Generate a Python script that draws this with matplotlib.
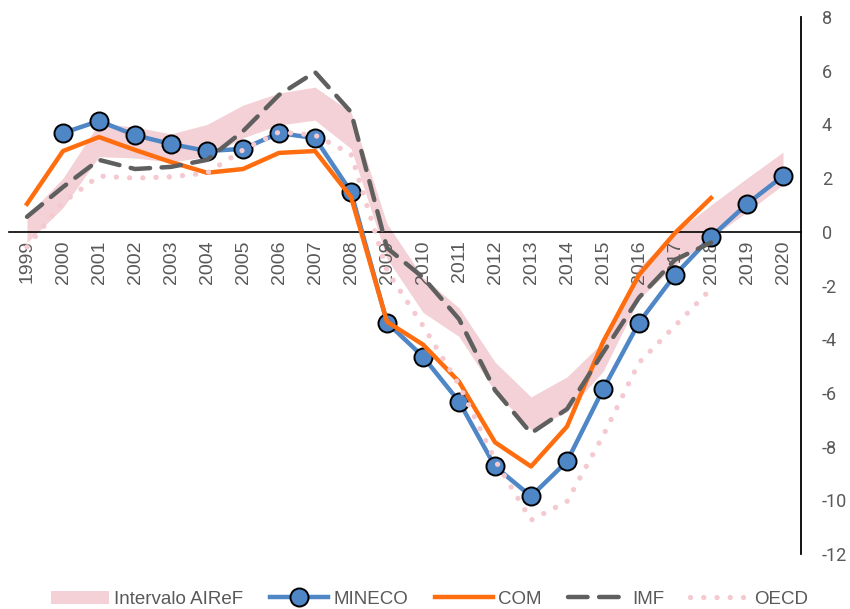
import matplotlib
matplotlib.use("Agg")
import matplotlib.pyplot as plt
import numpy as np

years = list(range(1999, 2021))

# Intervalo AIReF (1999-2020)
airef_low = [-0.4, 0.9, 2.8, 2.75, 2.6, 2.8, 3.5, 3.98, 4.16, 3.1, -1.0, -3.0, -3.9,
             -5.95, -7.36, -6.7, -5.2, -2.5, -1.23, -0.22, 0.74, 1.75]
airef_high = [0.6, 2.0, 4.05, 3.9, 3.65, 4.0, 4.72, 5.17, 5.39, 4.46, 0.3, -1.7, -2.83,
              -4.85, -6.15, -5.4, -4.1, -1.32, -0.04, 1.0, 2.0, 2.97]

# MINECO (2000-2020)
mineco_years = list(range(2000, 2021))
mineco = [3.68, 4.13, 3.6, 3.27, 3.01, 3.09, 3.68, 3.49, 1.49, -3.38, -4.65, -6.32,
          -8.74, -9.85, -8.55, -5.87, -3.38, -1.6, -0.19, 1.04, 2.08]

# COM, IMF, OECD (1999-2018)
fc_years = list(range(1999, 2019))
com = [1.04, 3.01, 3.53, 3.05, 2.6, 2.2, 2.34, 2.94, 3.01, 1.3, -3.35, -4.2, -5.58,
       -7.84, -8.74, -7.25, -4.1, -1.6, -0.04, 1.26]
imf = [0.56, 1.67, 2.68, 2.34, 2.42, 2.68, 3.75, 5.1, 5.95, 4.46, -0.6, -1.7, -3.25,
       -5.9, -7.5, -6.6, -4.5, -2.45, -1.04, -0.4]
oecd = [-0.56, 1.1, 2.08, 2.0, 2.05, 2.19, 3.05, 3.72, 3.6, 2.9, -1.45, -3.5, -5.7,
        -8.5, -10.74, -10.04, -7.6, -4.87, -3.5, -2.12]

yticks = list(range(-12, 10, 2))

narrow = ["Liberation Sans", "DejaVu Sans"]
grey = "#595959"

fig = plt.figure(figsize=(8.5, 6.09), dpi=100)
ax = fig.add_axes([0.0106, 0.0903, 0.9318, 0.8817])

x_all = np.arange(len(years))
x_min = np.array([years.index(y) for y in mineco_years])
x_fc = np.array([years.index(y) for y in fc_years])

ax.fill_between(x_all, airef_low, airef_high, color="#F3D1D6", lw=0, zorder=1.5,
                label="Intervalo AIReF")
ax.plot(x_min, mineco, color="#4E86C6", lw=3.2, marker="o", markersize=13,
        markerfacecolor="#4E86C6", markeredgecolor="black", markeredgewidth=1.4,
        label="MINECO", zorder=2)
ax.plot(x_fc, com, color="#FF6D0E", lw=3.2, label="COM", zorder=2)
ax.plot(x_fc, imf, color="#5F5F5F", lw=3.2, dashes=(4.4, 2.6), dash_capstyle="round",
        label="IMF", zorder=2)
ax.plot(x_fc, oecd, color="#F4C9D0", lw=3.8, dashes=(0.01, 2.5), dash_capstyle="round",
        label="OECD", zorder=2)

ax.set_xlim(-0.5, len(years) - 0.5)
ax.set_ylim(-12, 8)

# category axis crosses at zero, values on the right
ax.spines["bottom"].set_position(("data", 0))
ax.spines["bottom"].set_zorder(1.8)
ax.spines["bottom"].set_linewidth(1.2)
ax.spines["top"].set_visible(False)
ax.spines["left"].set_visible(False)
ax.spines["right"].set_linewidth(1.3)

ax.set_xticks(x_all)
ax.set_xticklabels([str(y) for y in years], rotation=90, family=narrow,
                   fontsize=14, color=grey)
ax.tick_params(axis="x", length=0, pad=6)

ax.yaxis.tick_right()
ax.set_yticks(yticks)
ax.set_yticklabels([str(v) for v in yticks], family=["Roboto", "DejaVu Sans"],
                   fontsize=13, color=grey)
ax.tick_params(axis="y", length=0, pad=15)

leg = fig.legend(loc="center", bbox_to_anchor=(0.505, 0.016), ncol=5, frameon=False,
                 prop={"family": narrow, "size": 13.5}, handlelength=3.1,
                 handletextpad=0.3, columnspacing=1.4)
for t in leg.get_texts():
    t.set_color(grey)

fig.savefig("out.png", dpi=100)
